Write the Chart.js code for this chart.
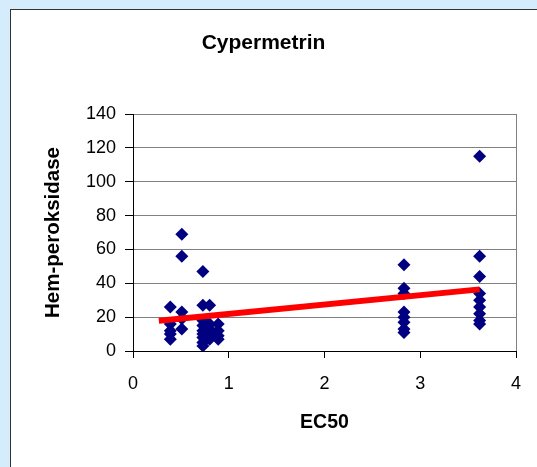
<!DOCTYPE html>
<html>
<head>
<meta charset="utf-8">
<script src="https://cdn.jsdelivr.net/npm/chart.js@4/dist/chart.umd.min.js"></script>
<style>
  html,body{margin:0;padding:0;background:#d4ecfc;overflow:hidden;}
  #box{position:absolute;left:10px;top:9px;width:600px;height:520px;background:#fff;
       border:1px solid #333;}
  #wrap{position:absolute;left:0;top:0;width:526px;height:457px;}
</style>
</head>
<body>
<div id="box"><div id="wrap"><canvas id="chart" width="526" height="457"></canvas></div></div>
<script>
// Cypermetrin: Hem-peroksidase vs EC50, punkter + lineær trend

const ec50 = [
  0.39,0.39,0.39,0.39,0.39,
  0.51,0.51,0.51,0.51,0.51,
  0.73,0.73,0.73,0.73,0.73,0.73,0.73,0.73,0.73,
  0.80,0.80,0.80,0.80,0.80,
  0.89,0.89,0.89,0.89,
  2.83,2.83,2.83,2.83,2.83,2.83,2.83,2.83,
  3.62,3.62,3.62,3.62,3.62,3.62,3.62,3.62,3.62
];
const hemPeroksidase = [
  26,16,12,10,7,
  69,56,23,19,13,
  47,27,18,15,12,10,8,5,3,
  27,16,13,10,7,
  16,12,9,7,
  51,37,34,23,20,17,13,11,
  115,56,44,34,30,26,22,18,16
];
const trendX = [0.27, 3.62];
const trendY = [17.9, 36.4];
const yTicks = [0,20,40,60,80,100,120,140];
const xTicks = [0,1,2,3,4];

const FONT = "'Liberation Sans', Arial, sans-serif";

new Chart(document.getElementById("chart"), {
  type: "scatter",
  data: {
    datasets: [
      { label:"Trend", type:"line", order:0,
        data: trendX.map((x,i)=>({x:x, y:trendY[i]})),
        borderColor:"#ff0000", borderWidth:6, pointRadius:0, fill:false, tension:0 },
      { label:"Cypermetrin", order:1,
        data: ec50.map((x,i)=>({x:x, y:hemPeroksidase[i]})),
        pointStyle:"rectRot", pointRadius:6.5, pointHoverRadius:6.5,
        backgroundColor:"#000080", borderColor:"#000080", borderWidth:0 }
    ]
  },
  options: {
    responsive:false, animation:false, events:[],
    layout:{ padding:{ left:0, right:21, top:0, bottom:0 } },
    plugins:{
      legend:{ display:false }, tooltip:{ enabled:false },
      title:{ display:true, text:"Cypermetrin", color:"#000",
        font:{ family:FONT, size:21, weight:"bold", lineHeight:1.2 },
        padding:{ top:20.4, bottom:58.4 } }
    },
    scales:{
      x:{ type:"linear", min:0, max:4,
        afterBuildTicks: s => { s.ticks = xTicks.map(v=>({value:v})); },
        afterFit: s => { s.height = 116; },
        border:{ color:"#000", width:1 },
        grid:{ color: c => (c.tick && c.tick.value===4) ? "#808080" : "rgba(0,0,0,0)",
               tickColor:"#000", tickLength:7, lineWidth:1 },
        ticks:{ color:"#000", padding:15, font:{ family:FONT, size:18 } },
        title:{ display:true, text:"EC50", color:"#000",
          font:{ family:FONT, size:19.5, weight:"bold", lineHeight:1.2 },
          padding:{ top:0, bottom:32.3 } }
      },
      y:{ type:"linear", min:0, max:140,
        afterBuildTicks: s => { s.ticks = yTicks.map(v=>({value:v})); },
        afterFit: s => { s.width = 122; },
        border:{ color:"#000", width:1 },
        grid:{ color:"#808080", tickColor:"#000", tickLength:8, lineWidth:1 },
        ticks:{ color:"#000", padding:9, font:{ family:FONT, size:18 } },
        title:{ display:true, text:"Hem-peroksidase", color:"#000",
          font:{ family:FONT, size:20.5, weight:"bold", lineHeight:1.2 },
          padding:{ top:30, bottom:0 } }
      }
    }
  }
});
</script>
</body>
</html>
